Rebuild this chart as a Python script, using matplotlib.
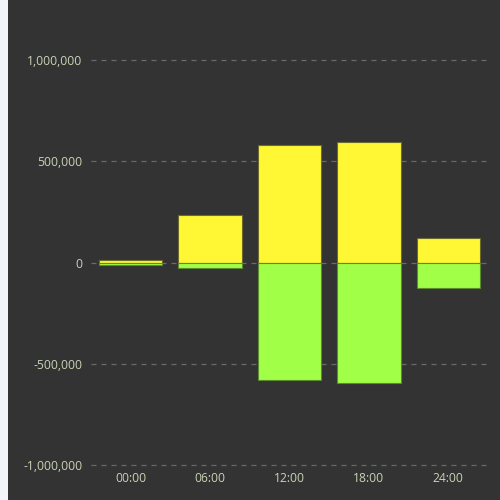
import matplotlib
matplotlib.use("Agg")
from matplotlib import pyplot as plt
from matplotlib.patches import Rectangle
from matplotlib.ticker import FuncFormatter

# values
hours = ["00:00", "06:00", "12:00", "18:00", "24:00"]
positive = [11000, 233000, 579000, 593000, 122000]
negative = [-13000, -26000, -581000, -597000, -125000]
y_ticks = [-1000000, -500000, 0, 500000, 1000000]

BG = "#333333"
TEXT = "#c8d4b4"
YELLOW = "#fff733"
GREEN = "#a0ff46"

plt.rcParams["font.family"] = ["Open Sans", "DejaVu Sans"]

fig = plt.figure(figsize=(5, 5), dpi=100, facecolor=BG)
# light strip down the left edge
fig.patches.append(Rectangle((0, 0), 8 / 500, 1, transform=fig.transFigure,
                             facecolor="#f2f4f9", edgecolor="none", zorder=0))

ax = fig.add_axes([91 / 500, 35 / 500, 397 / 500, 405 / 500])
ax.set_facecolor(BG)

x = range(len(hours))
ax.bar(x, positive, width=0.8, color=YELLOW, edgecolor="#6b6a2c", linewidth=0.8, zorder=3)
ax.bar(x, negative, width=0.8, color=GREEN, edgecolor="#5c8a30", linewidth=0.8, zorder=3)

ax.set_xlim(-0.5, 4.5)
ax.set_ylim(-1000000, 1000000)
ax.set_yticks(y_ticks)
ax.yaxis.set_major_formatter(FuncFormatter(lambda v, p: f"{int(v):,}"))
ax.set_xticks(list(x))
ax.set_xticklabels(hours)

ax.grid(axis="y", color="#6a6a6a", linestyle=(0, (4, 4)), linewidth=0.9, zorder=1)
for gl in ax.get_ygridlines():
    gl.set_clip_on(False)
ax.tick_params(axis="both", length=0, colors=TEXT, labelsize=8.7)
ax.tick_params(axis="y", pad=6)
ax.tick_params(axis="x", pad=5)
for s in ax.spines.values():
    s.set_visible(False)

fig.savefig("out.png", dpi=100, facecolor=BG)
